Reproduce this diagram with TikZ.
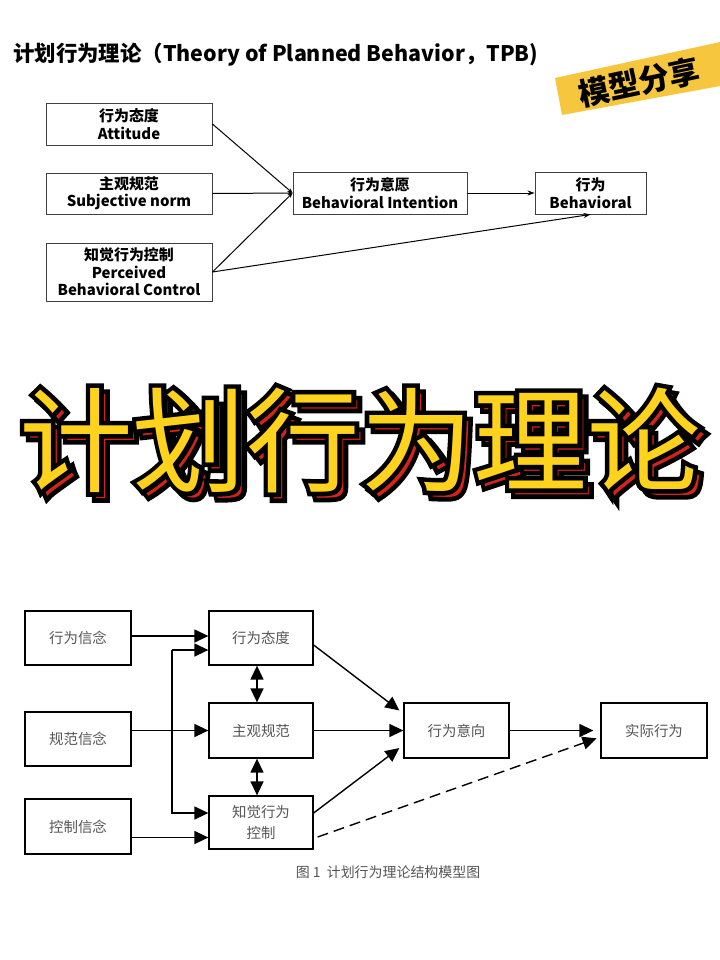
\documentclass[tikz,border=0pt]{standalone}
\usepackage{fontspec}
\usetikzlibrary{arrows.meta,calc}
\newfontfamily\cjk{Noto Sans CJK SC}
\newfontfamily\cjkfat{Noto Sans CJK SC}[FakeBold=8]
\definecolor{badgey}{HTML}{F7C63F}
\definecolor{bigy}{HTML}{FFD21E}
\definecolor{bigr}{HTML}{D4241A}
\definecolor{btext}{HTML}{555555}
\tikzset{
  tbox/.style={draw=black!75, line width=0.9bp, font=\cjk\bfseries\fontsize{15}{17.5}\selectfont, align=center, inner sep=0pt},
  tarrow/.style={line width=1bp, -{Stealth[length=7bp,width=5bp]}},
  jarrow/.style={line width=1bp, -{Stealth[length=5bp,width=4bp]}},
  bbox/.style={draw=black, line width=1.3bp, font=\cjk\fontsize{14.5}{21}\selectfont, text=btext, align=center, inner sep=0pt},
  barrow/.style={line width=1.4bp, -{Triangle[length=14bp,width=13bp]}},
  bdarrow/.style={line width=1.4bp, {Triangle[length=14bp,width=13bp]}-{Triangle[length=14bp,width=13bp]}},
  bigt/.style={font=\cjk\fontsize{114}{120}\selectfont, inner sep=0pt},
  bigo/.style={font=\cjkfat\fontsize{114}{120}\selectfont, inner sep=0pt},
}
\begin{document}
\begin{tikzpicture}[x=1bp,y=-1bp]
\useasboundingbox (0,0) rectangle (720,960);
\fill[white] (0,0) rectangle (720,960);

% title
\node[anchor=west, font=\cjk\bfseries\fontsize{21.5}{24}\selectfont, inner sep=0pt] (title) at (13,55) {计划行为理论（Theory of Planned Behavior，TPB)};

% badge
\fill[badgey] (555,78) -- (720,42) -- (720,86) -- (562,115) -- cycle;
\node[rotate=12, font=\cjk\bfseries\fontsize{31}{33}\selectfont, inner sep=0pt] (badge) at (639,82) {模型分享};

% top diagram
\node[tbox, minimum width=166bp, minimum height=42bp] (att) at (129,124) {行为态度\\Attitude};
\node[tbox, minimum width=166bp, minimum height=41bp] (sub) at (129,193.5) {主观规范\\Subjective norm};
\node[tbox, minimum width=166bp, minimum height=58bp] (pbc) at (129,272) {知觉行为控制\\Perceived\\Behavioral Control};
\node[tbox, minimum width=174bp, minimum height=42bp] (bi) at (380,193) {行为意愿\\Behavioral Intention};
\node[tbox, minimum width=111bp, minimum height=42bp] (beh) at (590.5,193) {行为\\Behavioral};

\draw[jarrow] (att.east) -- (bi.west);
\draw[jarrow] (sub.east) -- (bi.west);
\draw[jarrow] (pbc.east) -- (bi.west);
\draw[tarrow] (bi.east) -- (beh.west);
\draw[tarrow] (pbc.east) -- (beh.south);

% big title with outline and shadow
\node[bigo, text=black] (bigshadowout) at (366,446) {计划行为理论};
\node[bigt, text=bigr] (bigshadow) at (366,446) {计划行为理论};
\node[bigo, text=black] (bigtitleout) at (360,440) {计划行为理论};
\node[bigt, text=bigy] (bigtitle) at (360,440) {计划行为理论};

% bottom diagram
\node[bbox, minimum width=106bp, minimum height=54bp] (bb1) at (78,638) {行为信念};
\node[bbox, minimum width=106bp, minimum height=54bp] (bb2) at (78,739) {规范信念};
\node[bbox, minimum width=106bp, minimum height=55bp] (bb3) at (78,826.5) {控制信念};
\node[bbox, minimum width=104bp, minimum height=54bp] (ba) at (261,638) {行为态度};
\node[bbox, minimum width=104bp, minimum height=55bp] (bs) at (261,730.5) {主观规范};
\node[bbox, minimum width=104bp, minimum height=53bp] (bp) at (261,822.5) {知觉行为\\控制};
\node[bbox, minimum width=105bp, minimum height=55bp] (bi2) at (456.5,730.5) {行为意向};
\node[bbox, minimum width=106bp, minimum height=55bp] (ab) at (654,730.5) {实际行为};

\coordinate (v1) at (172,650);
\coordinate (v2) at (172,813);

\draw[barrow] ([yshift=2bp]bb1.east) -- ([yshift=2bp]ba.west);
\draw[barrow] (v1) -- (ba.west |- v1);
\draw[barrow] (v1) -- (v2) -- (bp.west |- v2);
\draw[barrow] (bb2.east |- bs.west) -- (bs.west);
\draw[barrow] ([yshift=-11bp]bb3.east) -- ([yshift=-11bp]bb3.east -| bp.west);
\draw[bdarrow] ([xshift=-4bp]ba.south) -- ([xshift=-4bp]bs.north);
\draw[bdarrow] ([xshift=-4bp]bs.south) -- ([xshift=-4bp]bp.north);

\draw[barrow, shorten >=5bp] ([yshift=-7bp]ba.east) -- ([yshift=17bp]bi2.west);
\draw[barrow] (bs.east) -- (bi2.west);
\draw[barrow, shorten >=5bp] ([yshift=9.5bp]bp.east) -- ([yshift=-14.5bp]bi2.west);
\draw[barrow, shorten >=7bp] (bi2.east) -- (ab.west);
\draw[barrow, shorten >=4bp, dash pattern=on 11bp off 6bp] ([yshift=-14.5bp,xshift=4bp]bp.east) -- ([yshift=-6.5bp]ab.west);

\node[font=\cjk\fontsize{14}{16}\selectfont, text=btext, inner sep=0pt] (cap) at (388,872) {图 1\ \ 计划行为理论结构模型图};
\end{tikzpicture}
\end{document}
